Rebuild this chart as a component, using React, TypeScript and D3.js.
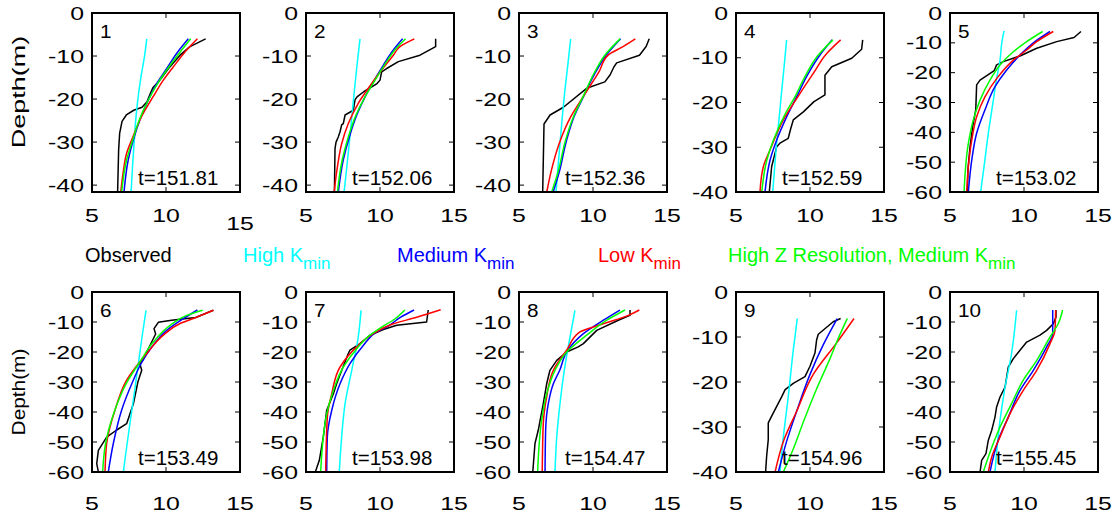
import React from "react";
import * as d3 from "d3";

type Pt = [number, number]; // [temperature °C, depth m]

const panelNumbers = ["1", "2", "3", "4", "5", "6", "7", "8", "9", "10"];
const timeLabels = ["t=151.81", "t=152.06", "t=152.36", "t=152.59", "t=153.02", "t=153.49", "t=153.98", "t=154.47", "t=154.96", "t=155.45"];
const depthLimits = [-41.6, -41.6, -41.6, -40, -60, -60, -60, -60, -40, -60];
const tempTicks = [5, 10, 15];
const depthTicks = [0, -10, -20, -30, -40, -50, -60];

const seriesNames = ["Observed", "High K", "Medium K", "Low K", "High Z Resolution, Medium K"];
const seriesColors = ["#000000", "#00FFFF", "#0000FF", "#FF0000", "#00FF00"];
const seriesSub = ["", "min", "min", "min", "min"];
const legendX = [85, 243, 397, 598, 728];

// Panel 1
const obs1: Pt[] = [[12.68,-6],[11.62,-7.8],[10.95,-9.8],[10.17,-12.9],[9.5,-16],[9.12,-17.3],[8.99,-18.3],[8.72,-20.6],[8.38,-21.9],[7.82,-22.6],[7.32,-23.7],[7.03,-25.2],[6.87,-27.9],[6.8,-31.8],[6.73,-41.7]];
const high1: Pt[] = [[8.7,-6],[8.55,-10],[8.3,-15],[8.1,-20],[7.95,-25],[7.85,-30],[7.75,-35],[7.64,-41.7]];
const med1: Pt[] = [[11.51,-6],[10.72,-9.4],[10.05,-12.9],[9.37,-16.4],[8.81,-20.2],[8.24,-24.8],[7.79,-29.5],[7.45,-34.1],[7.16,-41.7]];
const low1: Pt[] = [[12.12,-6],[11.4,-8.6],[10.5,-12.5],[9.82,-15.6],[9.14,-19.4],[8.36,-24],[7.68,-29.5],[7.34,-32.6],[7.1,-37.2],[6.94,-41.7]];
const hz1: Pt[] = [[11.67,-6],[10.88,-9.4],[10.12,-12.9],[9.43,-16.4],[8.81,-20.2],[8.2,-24.8],[7.75,-29.5],[7.34,-34.1],[7.0,-41.7]];
// Panel 2
const obs2: Pt[] = [[13.76,-6],[13.76,-7.8],[12.7,-9.8],[11.24,-11.3],[10.45,-12.9],[10.11,-13.7],[10.0,-15.6],[9.8,-16.4],[8.9,-18.3],[8.45,-19.5],[8.31,-20.2],[8.2,-22.6],[7.64,-23.7],[7.52,-25.7],[7.41,-26],[7.3,-27.6],[7.18,-28.8],[7.03,-30],[6.96,-31.5],[6.92,-41.7]];
const high2: Pt[] = [[8.65,-6],[8.45,-12],[8.27,-18],[8.1,-24],[7.93,-30],[7.75,-36],[7.57,-41.7]];
const med2: Pt[] = [[11.53,-6],[10.9,-8.6],[10.23,-12.1],[9.55,-16],[8.99,-19.5],[8.43,-23.7],[7.93,-28.8],[7.52,-34.1],[7.18,-41.7]];
const low2: Pt[] = [[12.32,-6],[11.35,-7.8],[10.9,-9.8],[9.77,-14.8],[9.21,-17.5],[8.53,-21],[7.86,-25.7],[7.41,-30.4],[7.12,-35.8],[6.9,-41.7]];
const hz2: Pt[] = [[11.73,-6],[11.0,-8.6],[10.3,-12.1],[9.6,-16],[8.99,-19.5],[8.38,-23.7],[7.86,-28.8],[7.45,-34.1],[7.12,-41.7]];
// Panel 3
const obs3: Pt[] = [[13.8,-6],[13.59,-7.8],[13.14,-9.8],[11.6,-11.6],[11.42,-12.5],[11.15,-14.4],[10.8,-16],[9.57,-17.5],[8.0,-21.9],[7.1,-23.7],[6.69,-25.8],[6.6,-41.7]];
const high3: Pt[] = [[8.49,-6],[8.3,-12],[8.1,-18],[7.93,-24],[7.78,-30],[7.63,-36],[7.5,-41.7]];
const med3: Pt[] = [[11.87,-6],[10.9,-9.8],[10.14,-14],[9.35,-19.5],[8.72,-24.1],[8.22,-29.5],[7.7,-37.2],[7.3,-41.7]];
const low3: Pt[] = [[12.86,-6],[12.03,-7.8],[11.02,-9.8],[10.4,-13.7],[9.4,-19.1],[8.5,-24.1],[7.7,-30.5],[7.2,-36.4],[6.87,-41.7]];
const hz3: Pt[] = [[11.83,-6],[10.8,-9.8],[10.07,-14],[9.32,-19.5],[8.68,-24.1],[8.15,-29.5],[7.62,-37.2],[7.2,-41.7]];
// Panel 4
const obs4: Pt[] = [[13.56,-6],[13.49,-8.1],[12.82,-10.1],[11.47,-12],[11.01,-13.9],[11.01,-18.3],[10.27,-19.8],[9.55,-22.1],[8.87,-23.9],[8.7,-25.8],[8.53,-28],[7.97,-29.1],[7.75,-29.9],[7.41,-34.3],[7.25,-40]];
const high4: Pt[] = [[8.42,-6],[8.25,-12],[8.07,-18],[7.9,-24],[7.72,-30],[7.6,-35],[7.48,-40]];
const med4: Pt[] = [[11.5,-6],[10.67,-9.4],[9.77,-14.2],[9.1,-18.7],[8.42,-23.2],[7.75,-28.4],[7.3,-32.9],[6.96,-40]];
const low4: Pt[] = [[12.07,-6],[11.13,-9.05],[10.22,-13.5],[9.32,-18],[8.2,-23.9],[7.3,-30.6],[6.85,-34.3],[6.62,-40]];
const hz4: Pt[] = [[11.55,-6],[10.56,-9.4],[9.66,-14.2],[8.99,-18.7],[8.32,-22.6],[7.53,-28.4],[7.08,-32.9],[6.74,-40]];
// Panel 5
const obs5: Pt[] = [[13.85,-6.2],[13.38,-8.2],[12.21,-9.6],[10.86,-11.8],[9.73,-14.4],[8.6,-16.3],[8.15,-17.4],[7.99,-19.3],[7.03,-22.5],[6.8,-24.1],[6.74,-32.5],[6.53,-38.1],[6.35,-45],[6.22,-52],[6.17,-60]];
const high5: Pt[] = [[8.65,-6],[8.5,-10],[8.38,-15.8],[8.15,-22],[7.93,-29.2],[7.59,-40.3],[7.3,-51.5],[7.07,-60]];
const med5: Pt[] = [[11.76,-6.2],[10.74,-9.6],[9.73,-14.1],[8.83,-19.1],[8.04,-24.7],[7.36,-32.5],[6.8,-40.3],[6.47,-49.3],[6.24,-60]];
const low5: Pt[] = [[11.98,-6.2],[10.86,-9.6],[10.18,-12.4],[9.28,-15.8],[8.15,-22],[7.36,-28.1],[6.8,-34.8],[6.47,-42.6],[6.24,-51.5],[6.13,-60]];
const hz5: Pt[] = [[11.26,-6.2],[10.18,-9.6],[9.28,-13],[8.38,-17.4],[7.7,-22.5],[7.03,-29.2],[6.57,-35.9],[6.24,-43.7],[5.95,-60]];
// Panel 6
const obs6: Pt[] = [[13.2,-6.1],[12.0,-8.5],[10.38,-9.4],[9.48,-10.1],[9.19,-12.2],[9.3,-14],[9.0,-17],[8.6,-21],[8.24,-24],[8.36,-26.1],[8.1,-30],[7.8,-37.2],[7.34,-43.9],[6.67,-46],[5.99,-48.4],[5.43,-52.8],[5.32,-57.2],[5.43,-60]];
const high6: Pt[] = [[8.65,-6.1],[8.38,-15],[8.1,-25],[7.82,-35],[7.5,-46],[7.25,-55],[7.12,-60]];
const med6: Pt[] = [[12.12,-6],[11.17,-8.9],[10.05,-12.8],[9.03,-18.4],[8.3,-24],[7.79,-29.4],[7.0,-39.4],[6.44,-50.5],[6.1,-60]];
const low6: Pt[] = [[13.2,-6.1],[12.07,-8.4],[10.95,-10.5],[9.82,-14.4],[8.7,-20.5],[7.34,-29.4],[6.55,-39.4],[5.99,-50.5],[5.88,-60]];
const hz6: Pt[] = [[12.48,-6.1],[11.4,-7.8],[10.28,-11.1],[9.14,-16.7],[8.24,-23.3],[7.3,-30.6],[6.5,-40],[5.9,-51],[5.72,-60]];
// Panel 7
const obs7: Pt[] = [[13.26,-6],[13.15,-10],[11.13,-11.1],[10.23,-12.5],[9.32,-14.4],[8.65,-17.2],[7.97,-19.4],[7.86,-20.5],[7.5,-25],[7.07,-30.6],[6.85,-33.9],[6.4,-39.4],[6.17,-48.3],[5.9,-56.1],[5.63,-60]];
const high7: Pt[] = [[8.72,-6.1],[8.53,-15],[8.09,-26.1],[7.64,-37.2],[7.41,-48.3],[7.25,-60]];
const med7: Pt[] = [[12.3,-6],[11.4,-8.4],[10.5,-11.5],[9.77,-13.3],[8.87,-17.8],[7.97,-23.9],[7.3,-30.6],[6.74,-39.4],[6.44,-48.3],[6.4,-60]];
const low7: Pt[] = [[14.1,-5.9],[12.48,-8.4],[10.9,-10.6],[9.55,-13.9],[8.43,-18.3],[7.3,-25],[6.74,-33.9],[6.44,-41.7],[6.33,-60]];
const hz7: Pt[] = [[11.68,-6],[11.0,-9],[10.11,-11.7],[9.32,-14.4],[8.43,-18.9],[7.52,-25],[6.85,-32.8],[6.4,-40.6],[6.17,-48.3],[5.99,-60]];
// Panel 8
const obs8: Pt[] = [[12.5,-6],[12.5,-7.8],[11.71,-9.4],[10.25,-12.8],[9.35,-17.2],[9.0,-18.3],[8.22,-20],[7.55,-22.8],[7.09,-26.1],[6.87,-30.6],[6.64,-37.2],[6.3,-46.1],[6.08,-50.5],[5.93,-60]];
const high8: Pt[] = [[8.78,-6.1],[8.45,-15],[8.06,-26.1],[7.77,-37.2],[7.55,-48.3],[7.43,-60]];
const med8: Pt[] = [[11.82,-6],[10.7,-9.4],[9.35,-13.9],[8.22,-20],[7.75,-26.1],[7.32,-30.6],[6.98,-37.2],[6.8,-46.1],[6.76,-60]];
const low8: Pt[] = [[13.13,-6],[12.39,-7.8],[10.7,-10.6],[9.12,-13.3],[8.22,-19.4],[7.32,-26.1],[6.87,-35],[6.64,-43.9],[6.57,-60]];
const hz8: Pt[] = [[12.16,-6],[10.93,-9.4],[9.57,-14.4],[8.22,-20],[7.43,-26.1],[6.87,-33.9],[6.53,-42.8],[6.26,-60]];
// Panel 9
const obs9: Pt[] = [[12.07,-5.9],[11.57,-6.6],[10.56,-9.4],[10.45,-10.6],[10.34,-13.5],[10.0,-16.5],[9.66,-18.8],[8.87,-20.3],[8.32,-21.7],[8.1,-23.2],[7.75,-25.4],[7.41,-27.6],[7.18,-29.1],[7.18,-32.8],[7.07,-36.5],[7.0,-40]];
const high9: Pt[] = [[9.14,-5.9],[8.87,-12.9],[8.53,-23.3],[8.2,-32.2],[7.97,-40]];
const med9: Pt[] = [[11.84,-5.9],[10.9,-11.7],[10.0,-18.3],[9.1,-26.5],[8.42,-33.2],[7.86,-40]];
const low9: Pt[] = [[12.97,-5.9],[11.8,-11.3],[10.22,-18.3],[9.1,-26.5],[8.2,-33.2],[7.64,-40]];
const hz9: Pt[] = [[12.52,-5.9],[11.91,-10.3],[11.35,-14.8],[10.45,-21.5],[9.55,-28.9],[8.87,-34.9],[8.2,-40]];
// Panel 10
const obs10: Pt[] = [[12.16,-6],[12.16,-8.4],[11.98,-10.6],[11.53,-12.8],[11.08,-14.4],[10.18,-16.7],[9.73,-19.4],[9.28,-22.2],[8.94,-25],[8.83,-28.3],[8.72,-31.7],[8.38,-35],[8.15,-38.3],[8.04,-41.7],[7.82,-46.1],[7.59,-49.4],[7.43,-53.9],[7.14,-56.1],[7.03,-60]];
const high10: Pt[] = [[9.5,-6.1],[9.16,-20.5],[8.72,-31.7],[8.38,-42.8],[8.04,-60]];
const med10: Pt[] = [[11.94,-6],[11.94,-13.9],[11.53,-18.3],[10.63,-26.1],[9.73,-32.8],[8.94,-41.7],[8.26,-49.4],[7.7,-60]];
const low10: Pt[] = [[12.14,-6],[12.09,-12.8],[11.76,-17.2],[10.86,-26.1],[9.95,-32.8],[9.05,-40.6],[8.38,-48.3],[7.82,-55],[7.59,-60]];
const hz10: Pt[] = [[12.61,-6],[12.31,-10.6],[11.76,-15],[10.86,-22.8],[9.95,-29.4],[9.16,-37.2],[8.38,-45],[7.59,-55],[7.25,-60]];

const panelSeries: Pt[][][] = [
  [obs1, high1, med1, low1, hz1],
  [obs2, high2, med2, low2, hz2],
  [obs3, high3, med3, low3, hz3],
  [obs4, high4, med4, low4, hz4],
  [obs5, high5, med5, low5, hz5],
  [obs6, high6, med6, low6, hz6],
  [obs7, high7, med7, low7, hz7],
  [obs8, high8, med8, low8, hz8],
  [obs9, high9, med9, low9, hz9],
  [obs10, high10, med10, low10, hz10],
];

const FONT = "'Liberation Sans', Arial, Helvetica, sans-serif";
const colLeft = [92, 306, 519, 736, 950];
const panelW = 148;
const rowTop = [13, 292];
const rowBottom = [192, 472];
const xLabelBase = [222, 510];

function Panel({ i }: { i: number }) {
  const row = i < 5 ? 0 : 1;
  const col = i % 5;
  const left = colLeft[col];
  const top = rowTop[row];
  const bottom = rowBottom[row];
  const x = d3.scaleLinear().domain([5, 15]).range([left, left + panelW]);
  const y = d3.scaleLinear().domain([0, depthLimits[i]]).range([top, bottom]);
  const yt = depthTicks.filter((d) => d >= depthLimits[i] - 0.01);
  const clipId = `clip${i}`;
  const obsLine = d3.line<Pt>().x((d) => x(d[0])).y((d) => y(d[1])).curve(d3.curveLinear);
  const modelLine = d3.line<Pt>().x((d) => x(d[0])).y((d) => y(d[1])).curve(d3.curveMonotoneY);
  const tl = 5;
  return (
    <g>
      <defs>
        <clipPath id={clipId}>
          <rect x={left} y={top} width={panelW} height={bottom - top} />
        </clipPath>
      </defs>
      <g clipPath={`url(#${clipId})`}>
        {panelSeries[i].map((s, k) => (
          <path key={k} d={(k === 0 ? obsLine(s) : modelLine(s)) || ""} fill="none" stroke={seriesColors[k]} strokeWidth={1.5} strokeLinejoin="round" />
        ))}
      </g>
      {/* inward ticks */}
      {yt.map((t) => (
        <g key={`yt${t}`}>
          <line x1={left} x2={left + tl} y1={y(t)} y2={y(t)} stroke="#000" strokeWidth={1} />
          <line x1={left + panelW} x2={left + panelW - tl} y1={y(t)} y2={y(t)} stroke="#000" strokeWidth={1} />
        </g>
      ))}
      {tempTicks.map((t) => (
        <g key={`xt${t}`}>
          <line x1={x(t)} x2={x(t)} y1={bottom} y2={bottom - tl} stroke="#000" strokeWidth={1} />
          <line x1={x(t)} x2={x(t)} y1={top} y2={top + tl} stroke="#000" strokeWidth={1} />
        </g>
      ))}
      <rect x={left} y={top} width={panelW} height={bottom - top} fill="none" stroke="#000" strokeWidth={2} />
      {/* tick labels */}
      {yt.map((t) => (
        <text key={`yl${t}`} transform={`translate(${left - 8},${y(t) + 6.5}) scale(1.38,1)`} textAnchor="end" fontSize={18} fontFamily={FONT} fill="#000">
          {t}
        </text>
      ))}
      {tempTicks.map((t) => (
        <text key={`xl${t}`} transform={`translate(${x(t)},${i === 0 && t === 15 ? 230 : xLabelBase[row]}) scale(1.38,1)`} textAnchor="middle" fontSize={18} fontFamily={FONT} fill="#000">
          {t}
        </text>
      ))}
      <text transform={`translate(${left + 8},${top + 25}) scale(1.15,1)`} fontSize={18} fontFamily={FONT} fill="#000">
        {panelNumbers[i]}
      </text>
      <text x={left + 46} y={bottom - 7} fontSize={20.5} fontFamily={FONT} fill="#000">
        {timeLabels[i]}
      </text>
    </g>
  );
}

export default function App() {
  return (
    <svg width={1114} height={516} style={{ position: "absolute", left: 0, top: 0, background: "#fff" }}>
      <rect x={0} y={0} width={1114} height={516} fill="#fff" />
      {panelNumbers.map((_, i) => (
        <Panel key={i} i={i} />
      ))}
      <text transform="translate(25,92) rotate(-90) scale(1.45,1)" textAnchor="middle" fontSize={18.6} fontFamily={FONT} fill="#000">
        Depth(m)
      </text>
      <text transform="translate(25,392) rotate(-90) scale(1.12,1)" textAnchor="middle" fontSize={18.6} fontFamily={FONT} fill="#000">
        Depth(m)
      </text>
      {seriesNames.map((n, k) => (
        <text key={n} x={legendX[k]} y={262} fontSize={20} fontFamily={FONT} fill={seriesColors[k]}>
          {n}
          {seriesSub[k] && (
            <tspan dy={6.5} fontSize={17}>
              {seriesSub[k]}
            </tspan>
          )}
        </text>
      ))}
    </svg>
  );
}
